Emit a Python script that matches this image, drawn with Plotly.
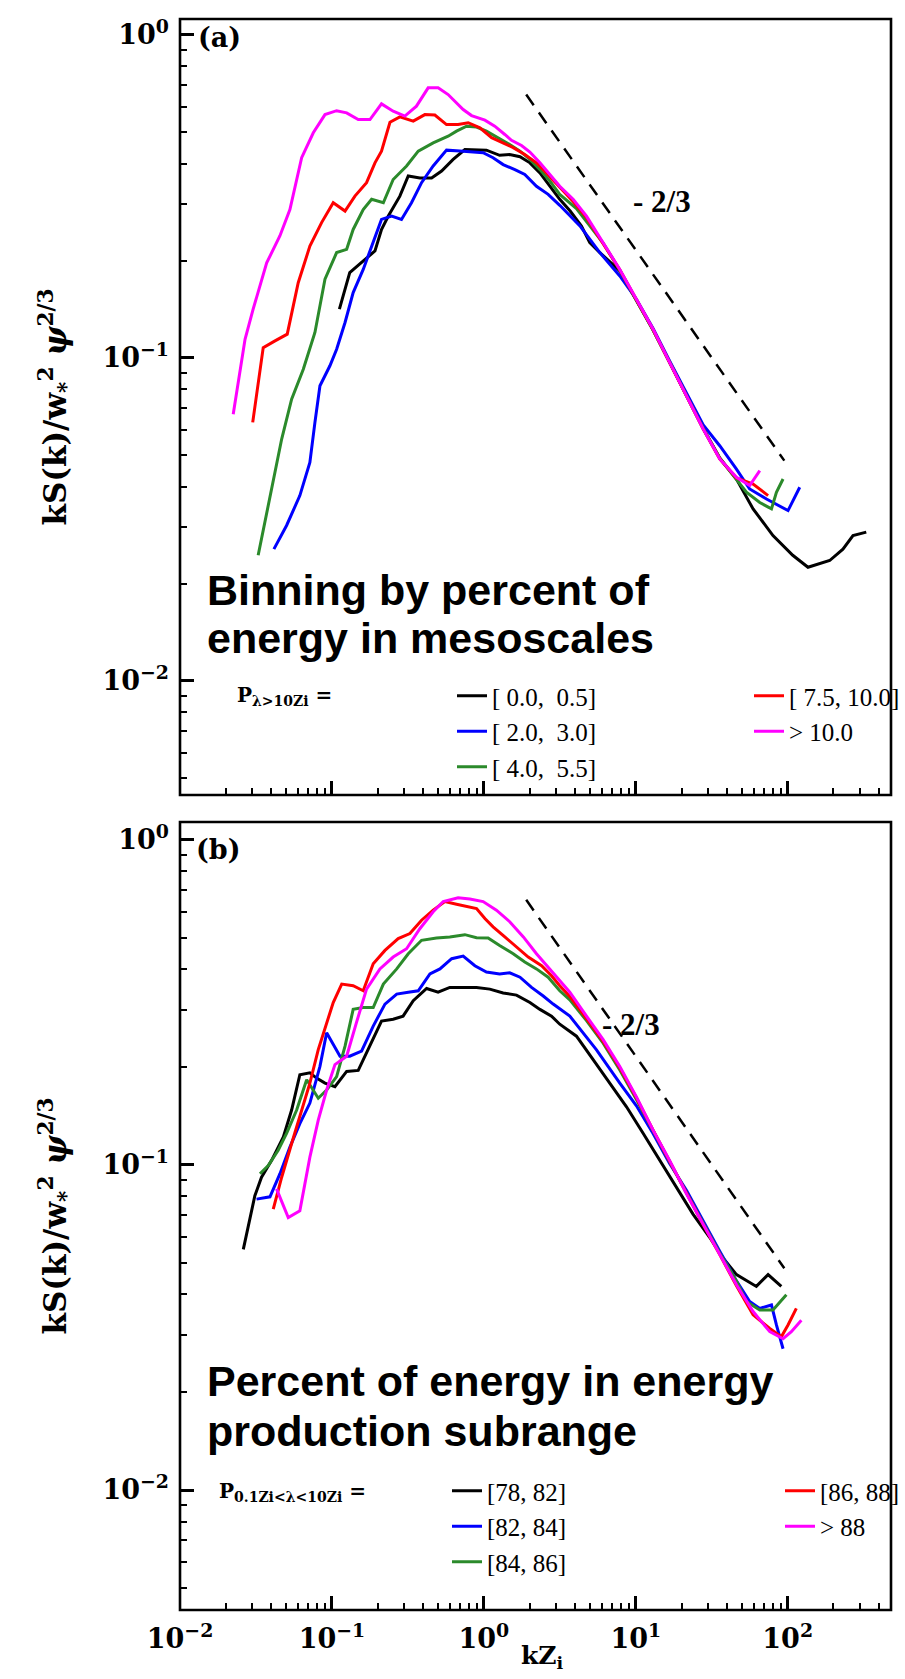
import plotly.graph_objects as go

# ---------------- data: panel (a) ----------------
a_black_x = [0.112, 0.131, 0.161, 0.192, 0.212, 0.235, 0.280, 0.318, 0.379, 0.453, 0.527, 0.628, 0.750, 0.895, 1.04, 1.27, 1.48, 1.73, 2.01, 2.34, 2.72, 3.16, 3.7, 4.39, 4.98, 5.8, 7.85, 10.1, 13.0, 16.7, 21.6, 27.8, 35.7, 46.0, 59.2, 80, 108, 136, 189, 231, 269, 329]
a_black_y = [0.1416, 0.1837, 0.1997, 0.2145, 0.250, 0.275, 0.317, 0.366, 0.361, 0.361, 0.379, 0.412, 0.442, 0.442, 0.440, 0.424, 0.4266, 0.420, 0.402, 0.374, 0.340, 0.310, 0.285, 0.2563, 0.2275, 0.212, 0.186, 0.151, 0.122, 0.097, 0.0767, 0.0605, 0.049, 0.0422, 0.0341, 0.0282, 0.0245, 0.0225, 0.0236, 0.0256, 0.0282, 0.0289]

a_blue_x = [0.0415, 0.0503, 0.0615, 0.0716, 0.0773, 0.0834, 0.097, 0.1074, 0.122, 0.138, 0.1607, 0.187, 0.212, 0.247, 0.287, 0.334, 0.389, 0.464, 0.568, 0.695, 0.851, 0.989, 1.15, 1.34, 1.60, 1.86, 2.22, 2.65, 3.16, 4.29, 5.8, 7.85, 10.1, 13.0, 16.7, 21.6, 27.8, 35.7, 46.0, 56.2, 72.5, 100.5, 120]
a_blue_y = [0.0256, 0.0303, 0.0375, 0.0475, 0.0632, 0.082, 0.0946, 0.1064, 0.1288, 0.1594, 0.188, 0.2275, 0.2685, 0.275, 0.2685, 0.3025, 0.349, 0.393, 0.440, 0.437, 0.434, 0.432, 0.417, 0.397, 0.383, 0.370, 0.340, 0.321, 0.297, 0.2563, 0.212, 0.1795, 0.152, 0.1235, 0.098, 0.078, 0.062, 0.0535, 0.0453, 0.0393, 0.0366, 0.0337, 0.0398]

a_green_x = [0.0327, 0.0391, 0.0467, 0.0543, 0.0648, 0.0773, 0.090, 0.1074, 0.125, 0.138, 0.1607, 0.1825, 0.218, 0.253, 0.310, 0.370, 0.464, 0.582, 0.661, 0.769, 0.895, 1.04, 1.24, 1.48, 1.73, 2.01, 2.34, 2.72, 3.16, 4.07, 6.10, 7.85, 10.1, 13.0, 16.7, 21.6, 27.8, 35.7, 46.0, 53.5, 65.5, 78.2, 84.3, 93.2]
a_green_y = [0.0245, 0.0375, 0.0561, 0.0746, 0.0923, 0.120, 0.1754, 0.212, 0.217, 0.250, 0.288, 0.310, 0.3025, 0.357, 0.393, 0.437, 0.4636, 0.486, 0.504, 0.522, 0.519, 0.504, 0.481, 0.458, 0.437, 0.412, 0.383, 0.353, 0.321, 0.29, 0.227, 0.187, 0.151, 0.122, 0.097, 0.0765, 0.0605, 0.049, 0.042, 0.0384, 0.0357, 0.0341, 0.0384, 0.0422]

a_red_x = [0.0301, 0.0353, 0.0422, 0.0508, 0.060, 0.0716, 0.0855, 0.102, 0.122, 0.1417, 0.169, 0.192, 0.212, 0.241, 0.280, 0.343, 0.409, 0.476, 0.568, 0.677, 0.789, 0.942, 1.125, 1.34, 1.56, 1.86, 2.22, 2.58, 3.16, 3.87, 4.74, 6.10, 7.85, 10.1, 13.0, 16.7, 21.6, 27.8, 35.7, 46.0, 59.2, 74.3]
a_red_y = [0.0632, 0.1077, 0.113, 0.1185, 0.171, 0.222, 0.2625, 0.3025, 0.285, 0.317, 0.349, 0.402, 0.437, 0.537, 0.558, 0.541, 0.567, 0.565, 0.528, 0.528, 0.535, 0.516, 0.481, 0.4636, 0.448, 0.4266, 0.402, 0.374, 0.3365, 0.305, 0.272, 0.2265, 0.1875, 0.1515, 0.1225, 0.0967, 0.0762, 0.0602, 0.0487, 0.0425, 0.0407, 0.0375]

a_mag_x = [0.0224, 0.0268, 0.0303, 0.0372, 0.0455, 0.0529, 0.0632, 0.0754, 0.090, 0.1074, 0.125, 0.149, 0.178, 0.212, 0.253, 0.302, 0.360, 0.430, 0.500, 0.582, 0.731, 0.830, 1.016, 1.18, 1.374, 1.52, 1.77, 2.01, 2.34, 2.72, 3.16, 3.87, 4.74, 6.10, 7.85, 10.1, 13.0, 16.7, 21.6, 27.8, 35.7, 46.0, 56.2, 65.5]
a_mag_y = [0.0670, 0.1143, 0.1416, 0.197, 0.239, 0.288, 0.417, 0.498, 0.567, 0.583, 0.574, 0.547, 0.547, 0.612, 0.581, 0.561, 0.602, 0.686, 0.686, 0.654, 0.588, 0.563, 0.545, 0.522, 0.492, 0.472, 0.455, 0.434, 0.402, 0.370, 0.340, 0.310, 0.275, 0.2275, 0.188, 0.152, 0.1228, 0.0969, 0.0764, 0.0603, 0.0487, 0.0427, 0.0403, 0.0448]

# ---------------- data: panel (b) ----------------
b_black_x = [0.0261, 0.0311, 0.0344, 0.0401, 0.0479, 0.0543, 0.0615, 0.0716, 0.0792, 0.090, 0.1047, 0.125, 0.149, 0.178, 0.212, 0.253, 0.294, 0.343, 0.420, 0.500, 0.597, 0.731, 0.895, 1.094, 1.34, 1.64, 2.01, 2.34, 2.79, 3.16, 4.07, 5.24, 6.74, 8.69, 11.2, 14.4, 18.5, 23.8, 30.7, 37.5, 46.0, 62.2, 74.3, 90.8]
b_black_y = [0.0550, 0.0804, 0.0917, 0.1033, 0.122, 0.1476, 0.1895, 0.192, 0.185, 0.1786, 0.174, 0.194, 0.1954, 0.232, 0.277, 0.2806, 0.287, 0.320, 0.349, 0.340, 0.3517, 0.3517, 0.3517, 0.3475, 0.338, 0.333, 0.316, 0.301, 0.287, 0.271, 0.249, 0.211, 0.1786, 0.151, 0.125, 0.1033, 0.0853, 0.0706, 0.0598, 0.0518, 0.046, 0.0423, 0.046, 0.0423]

b_blue_x = [0.0319, 0.0391, 0.0455, 0.0529, 0.0615, 0.0716, 0.0834, 0.0923, 0.113, 0.131, 0.1567, 0.187, 0.2234, 0.267, 0.318, 0.370, 0.4416, 0.514, 0.614, 0.731, 0.873, 1.04, 1.27, 1.48, 1.73, 2.06, 2.46, 2.86, 3.68, 5.5, 7.85, 10.1, 13.0, 16.7, 21.6, 27.8, 35.7, 46.0, 56.2, 65.5, 78.2, 84.3, 93.2]
b_blue_y = [0.0785, 0.0798, 0.094, 0.1135, 0.134, 0.155, 0.201, 0.255, 0.216, 0.216, 0.224, 0.2675, 0.3125, 0.3355, 0.340, 0.3435, 0.387, 0.401, 0.431, 0.439, 0.410, 0.392, 0.387, 0.390, 0.378, 0.3517, 0.331, 0.3125, 0.287, 0.2265, 0.1786, 0.152, 0.125, 0.101, 0.0835, 0.067, 0.0543, 0.044, 0.038, 0.0362, 0.0371, 0.0322, 0.0272]

b_green_x = [0.0336, 0.0381, 0.0443, 0.0503, 0.0586, 0.0682, 0.0813, 0.0923, 0.1074, 0.122, 0.138, 0.1607, 0.187, 0.218, 0.267, 0.318, 0.389, 0.488, 0.597, 0.750, 0.895, 1.067, 1.27, 1.56, 1.86, 2.22, 2.65, 3.16, 3.68, 4.74, 6.10, 7.85, 10.1, 13.0, 16.7, 21.6, 27.8, 35.7, 46.0, 53.5, 65.5, 80, 98]
b_green_y = [0.094, 0.0996, 0.111, 0.125, 0.1476, 0.1828, 0.1604, 0.170, 0.187, 0.232, 0.301, 0.305, 0.305, 0.360, 0.401, 0.4465, 0.491, 0.499, 0.503, 0.511, 0.500, 0.499, 0.473, 0.4465, 0.421, 0.401, 0.378, 0.3435, 0.322, 0.278, 0.237, 0.196, 0.159, 0.127, 0.1025, 0.082, 0.066, 0.0535, 0.044, 0.038, 0.0358, 0.0358, 0.0399]

b_red_x = [0.0411, 0.0467, 0.0543, 0.0632, 0.0716, 0.0813, 0.0923, 0.102, 0.116, 0.138, 0.1607, 0.187, 0.2234, 0.273, 0.326, 0.389, 0.464, 0.554, 0.661, 0.769, 0.895, 1.016, 1.15, 1.374, 1.64, 1.96, 2.40, 2.79, 3.16, 3.68, 4.74, 6.10, 7.85, 10.1, 13.0, 16.7, 21.6, 27.8, 35.7, 46.0, 59.2, 76.2, 90.8, 100.5, 114]
b_red_y = [0.0731, 0.0917, 0.1164, 0.1476, 0.1786, 0.2265, 0.274, 0.316, 0.360, 0.356, 0.3435, 0.416, 0.457, 0.497, 0.515, 0.566, 0.608, 0.646, 0.634, 0.623, 0.615, 0.573, 0.540, 0.503, 0.468, 0.436, 0.410, 0.382, 0.356, 0.330, 0.282, 0.240, 0.199, 0.161, 0.128, 0.1025, 0.081, 0.0655, 0.053, 0.0425, 0.0346, 0.0314, 0.0296, 0.0322, 0.0362]

b_mag_x = [0.0432, 0.0516, 0.0615, 0.0716, 0.0813, 0.0923, 0.1047, 0.125, 0.145, 0.169, 0.207, 0.253, 0.310, 0.379, 0.464, 0.540, 0.677, 0.809, 0.989, 1.21, 1.48, 1.82, 2.22, 2.72, 3.16, 3.68, 4.74, 6.10, 7.85, 10.1, 13.0, 16.7, 21.6, 27.8, 35.7, 46.0, 59.2, 76.2, 93.2, 105.7, 123]
b_mag_y = [0.0844, 0.0689, 0.0723, 0.1057, 0.1374, 0.170, 0.2035, 0.216, 0.274, 0.3475, 0.401, 0.436, 0.4625, 0.533, 0.601, 0.646, 0.664, 0.658, 0.646, 0.608, 0.560, 0.503, 0.4465, 0.401, 0.369, 0.340, 0.287, 0.243, 0.201, 0.162, 0.128, 0.1033, 0.0814, 0.0657, 0.053, 0.0428, 0.0354, 0.0307, 0.0292, 0.0307, 0.0333]

# -2/3 reference line end points
ref_x = [1.9, 95.0]
ref_y = [0.654, 0.0481]

# legend labels
NB = "\u00a0"
a_labels = ["[" + NB + "0.0," + NB + NB + "0.5]", "[" + NB + "2.0," + NB + NB + "3.0]",
            "[" + NB + "4.0," + NB + NB + "5.5]", "[" + NB + "7.5, 10.0]", "&gt; 10.0"]
b_labels = ["[78, 82]", "[82, 84]", "[84, 86]", "[86, 88]", "&gt; 88"]

# tick labels
x_tickvals = [0.01, 0.1, 1, 10, 100]
x_ticktext = ["<b>10<sup>\u22122</sup></b>", "<b>10<sup>\u22121</sup></b>", "<b>10<sup>0</sup></b>",
              "<b>10<sup>1</sup></b>", "<b>10<sup>2</sup></b>"]
y_tickvals = [0.01, 0.1, 1]
y_ticktext = ["<b>10<sup>\u22122</sup></b>", "<b>10<sup>\u22121</sup></b>", "<b>10<sup>0</sup></b>"]

colors = ["#000000", "#0000ff", "#2b8a2b", "#ff0000", "#ff00ff"]
ranks = [1, 3, 5, 2, 4]

X_RANGE = [-2, 2.68]
YA_RANGE = [-2.353, 0.0495]
YB_RANGE = [-2.369, 0.055]

# ---- page geometry (pixels) ----
W, H = 905, 1679
L, R, T, B = 180, 14, 19, 1610          # plot area edges
A_TOP, A_BOT = 19, 795                   # panel (a) vertical extent
B_TOP, B_BOT = 822, 1610                 # panel (b) vertical extent
PH = B - T


def pdom(y0, y1):
    return [(B - y1) / PH, (B - y0) / PH]


def ya_dom(Y):
    return (A_BOT - Y) / (A_BOT - A_TOP)


def yb_dom(Y):
    return (B_BOT - Y) / (B_BOT - B_TOP)


def xdom(X):
    return (X - L) / (W - R - L)


def ypaper(Y):
    return (B - Y) / PH


fig = go.Figure()

a_series = [(a_black_x, a_black_y), (a_blue_x, a_blue_y), (a_green_x, a_green_y),
            (a_red_x, a_red_y), (a_mag_x, a_mag_y)]
b_series = [(b_black_x, b_black_y), (b_blue_x, b_blue_y), (b_green_x, b_green_y),
            (b_red_x, b_red_y), (b_mag_x, b_mag_y)]

for (xs, ys), name, col, rk in zip(a_series, a_labels, colors, ranks):
    fig.add_trace(go.Scatter(x=xs, y=ys, mode="lines", name=name, legend="legend",
                             legendrank=rk, line=dict(color=col, width=3),
                             xaxis="x", yaxis="y"))
fig.add_trace(go.Scatter(x=ref_x, y=ref_y, mode="lines", showlegend=False,
                         line=dict(color="black", width=2.5, dash="13px,9px"),
                         xaxis="x", yaxis="y"))

for (xs, ys), name, col, rk in zip(b_series, b_labels, colors, ranks):
    fig.add_trace(go.Scatter(x=xs, y=ys, mode="lines", name=name, legend="legend2",
                             legendrank=rk, line=dict(color=col, width=3),
                             xaxis="x2", yaxis="y2"))
fig.add_trace(go.Scatter(x=ref_x, y=ref_y, mode="lines", showlegend=False,
                         line=dict(color="black", width=2.5, dash="13px,9px"),
                         xaxis="x2", yaxis="y2"))

x_minor = [k * 10.0 ** e for e in range(-2, 3) for k in range(2, 10) if k * 10.0 ** e < 470]
y_minor = [k * 10.0 ** e for e in range(-3, 0) for k in range(2, 10) if k * 10.0 ** e > 0.0043]

tickfont = dict(family="DejaVu Serif", size=27, color="black")
minor_x = dict(ticks="inside", ticklen=7, tickwidth=2, tickcolor="black", showgrid=False,
               tickvals=x_minor)
minor_y = dict(ticks="inside", ticklen=7, tickwidth=2, tickcolor="black", showgrid=False,
               tickvals=y_minor)
base = dict(type="log", showgrid=False, zeroline=False, ticks="inside", ticklen=14,
            tickwidth=2.5, tickcolor="black", tickfont=tickfont, showline=False)

xa = dict(base, range=X_RANGE, tickvals=x_tickvals, ticktext=x_ticktext, minor=minor_x)
ya = dict(base, tickvals=y_tickvals, ticktext=y_ticktext, minor=minor_y,
          ticklabelstandoff=10)
# tick-only axes for the top and right edges of the frame
xt = dict(base, range=X_RANGE, tickvals=x_tickvals, minor=minor_x, side="top",
          showticklabels=False)
yr = dict(base, tickvals=y_tickvals, minor=minor_y, side="right", showticklabels=False)

ytitle = dict(text="<b>kS(k)/w<sub>*</sub><sup>2</sup> <i>\u03c8</i><sup>2/3</sup></b>",
              font=dict(family="DejaVu Serif", size=31, color="black"), standoff=26)

dom_a = pdom(A_TOP, A_BOT)
dom_b = pdom(B_TOP, B_BOT)

fig.update_layout(
    width=W, height=H,
    margin=dict(l=L, r=R, t=T, b=H - B, autoexpand=False),
    paper_bgcolor="white", plot_bgcolor="white",
    xaxis=dict(xa, anchor="y", domain=[0, 1], showticklabels=False),
    yaxis=dict(ya, anchor="x", domain=dom_a, range=YA_RANGE, title=ytitle),
    xaxis2=dict(xa, anchor="y2", domain=[0, 1], ticklabelstandoff=10),
    yaxis2=dict(ya, anchor="x2", domain=dom_b, range=YB_RANGE, title=ytitle),
    xaxis3=dict(xt, anchor="y", overlaying="x", domain=[0, 1]),
    yaxis3=dict(yr, anchor="x", overlaying="y", domain=dom_a, range=YA_RANGE),
    xaxis4=dict(xt, anchor="y2", overlaying="x2", domain=[0, 1]),
    yaxis4=dict(yr, anchor="x2", overlaying="y2", domain=dom_b, range=YB_RANGE),
    legend=dict(orientation="h", x=xdom(452), xanchor="left", y=ypaper(673), yanchor="top",
                entrywidth=252, entrywidthmode="pixels", bgcolor="rgba(0,0,0,0)",
                font=dict(family="Liberation Serif", size=25, color="black"),
                traceorder="normal"),
    legend2=dict(orientation="h", x=xdom(447), xanchor="left", y=ypaper(1468), yanchor="top",
                 entrywidth=288, entrywidthmode="pixels", bgcolor="rgba(0,0,0,0)",
                 font=dict(family="Liberation Serif", size=25, color="black"),
                 traceorder="normal"),
    showlegend=True,
)

# frame boxes around both panels (axis domain coordinates)
for xr, yrf in (("x domain", "y domain"), ("x2 domain", "y2 domain")):
    fig.add_shape(type="rect", xref=xr, yref=yrf, x0=0, x1=1, y0=0, y1=1,
                  line=dict(color="black", width=2.6), fillcolor="rgba(0,0,0,0)",
                  layer="above")

big_font = dict(family="Liberation Sans", size=43, color="black")
serif_b = dict(family="DejaVu Serif", size=27, color="black")
slope_font = dict(family="Liberation Serif", size=31, color="black")
p_font = dict(family="DejaVu Serif", size=20, color="black")

annots = [
    # panel (a)
    dict(text="<b>(a)</b>", xref="x domain", yref="y domain", x=0.022, y=ya_dom(37),
         xanchor="left", yanchor="middle", font=serif_b),
    dict(text="<b>- 2/3</b>", xref="x domain", yref="y domain", x=0.635, y=ya_dom(201),
         xanchor="left", yanchor="middle", font=slope_font),
    dict(text="<b>Binning by percent of</b>", xref="x domain", yref="y domain",
         x=xdom(205), y=ya_dom(590), xanchor="left", yanchor="middle", font=big_font),
    dict(text="<b>energy in mesoscales</b>", xref="x domain", yref="y domain",
         x=xdom(205), y=ya_dom(638), xanchor="left", yanchor="middle", font=big_font),
    dict(text="<b>P<sub>\u03bb&gt;10Zi</sub> =</b>", xref="x domain", yref="y domain",
         x=0.0775, y=ya_dom(696), xanchor="left", yanchor="middle", font=p_font),
    # panel (b)
    dict(text="<b>(b)</b>", xref="x2 domain", yref="y2 domain", x=0.020, y=yb_dom(850),
         xanchor="left", yanchor="middle", font=serif_b),
    dict(text="<b>- 2/3</b>", xref="x2 domain", yref="y2 domain", x=0.591, y=yb_dom(1025),
         xanchor="left", yanchor="middle", font=slope_font),
    dict(text="<b>Percent of energy in energy</b>", xref="x2 domain", yref="y2 domain",
         x=xdom(205), y=yb_dom(1381), xanchor="left", yanchor="middle", font=big_font),
    dict(text="<b>production subrange</b>", xref="x2 domain", yref="y2 domain",
         x=xdom(205), y=yb_dom(1431), xanchor="left", yanchor="middle", font=big_font),
    dict(text="<b>P<sub>0.1Zi&lt;\u03bb&lt;10Zi</sub> =</b>", xref="x2 domain", yref="y2 domain",
         x=0.052, y=yb_dom(1492), xanchor="left", yanchor="middle", font=p_font),
    # x-axis title (placed between the 10^0 and 10^1 labels, clear of both)
    dict(text="<b>kZ<sub>i</sub></b>", xref="x2 domain", yref="paper", x=xdom(542),
         y=ypaper(1657), xanchor="center", yanchor="middle",
         font=dict(family="DejaVu Serif", size=25, color="black")),
]
for a in annots:
    fig.add_annotation(showarrow=False, **a)

# remove the default page margin / scrollbar so the figure fills the window exactly
page_js = ("document.documentElement.style.margin='0';"
           "document.documentElement.style.overflow='hidden';"
           "document.body.style.margin='0';document.body.style.padding='0';"
           "document.body.style.overflow='hidden';")

fig.write_html("out.html", post_script=page_js, config={"displayModeBar": False})
